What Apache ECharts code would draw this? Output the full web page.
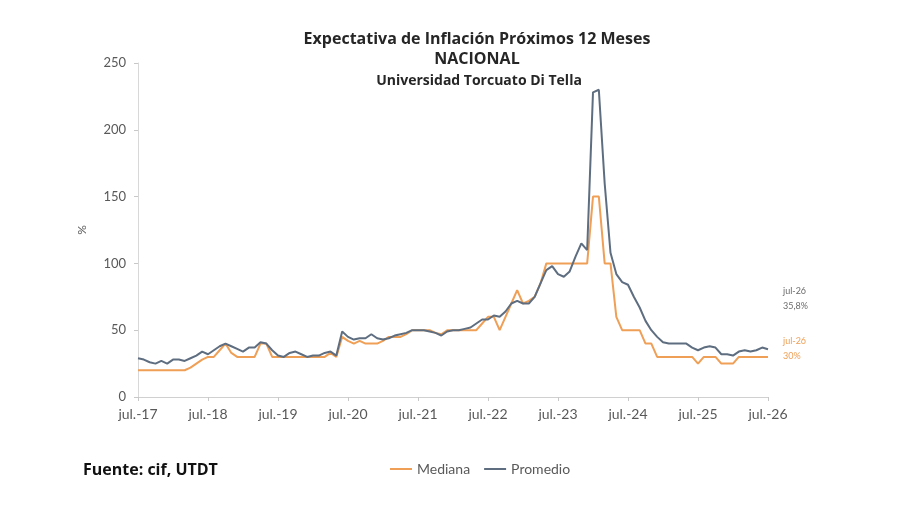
<!DOCTYPE html>
<html>
<head>
<meta charset="utf-8">
<script src="https://cdn.jsdelivr.net/npm/echarts@6/dist/echarts.min.js"></script>
<style>
  html, body { margin: 0; padding: 0; background: #fff; }
  #main { width: 900px; height: 505px; }
</style>
</head>
<body>
<div id="main"></div>
<script>
// monthly, jul-17 .. jul-26
var monthNames = ['ene.', 'feb.', 'mar.', 'abr.', 'may.', 'jun.', 'jul.', 'ago.', 'sep.', 'oct.', 'nov.', 'dic.'];
var months = [];
for (var k = 0; k < 109; k++) {
    var m = (6 + k) % 12;
    var yy = 17 + Math.floor((6 + k) / 12);
    months.push(monthNames[m] + '-' + yy);
}

var mediana = [
    20, 20, 20, 20, 20, 20, 20, 20, 20, 22, 25, 28,   // jul17-jun18
    30, 30, 35, 40, 33, 30, 30, 30, 30, 40, 40, 30,   // jul18-jun19
    30, 30, 30, 30, 30, 30, 30, 30, 30, 33, 30, 45,   // jul19-jun20
    42, 40, 42, 40, 40, 40, 42, 45, 45, 45, 47, 50,   // jul20-jun21
    50, 50, 50, 48, 47, 50, 50, 50, 50, 50, 50, 55,   // jul21-jun22
    60, 60, 50, 60, 70, 80, 70, 72, 75, 85, 100, 100, // jul22-jun23
    100, 100, 100, 100, 100, 100, 150, 150, 100, 100, 60, 50, // jul23-jun24
    50, 50, 50, 40, 40, 30, 30, 30, 30, 30, 30, 30,   // jul24-jun25
    25, 30, 30, 30, 25, 25, 25, 30, 30, 30, 30, 30,   // jul25-jun26
    30
];

var promedio = [
    29, 28, 26, 25, 27, 25, 28, 28, 27, 29, 31, 34,
    32, 35, 38, 40, 38, 36, 34, 37, 37, 41, 40, 35,
    31, 30, 33, 34, 32, 30, 31, 31, 33, 34, 31, 49,
    45, 43, 44, 44, 47, 44, 43, 44, 46, 47, 48, 50,
    50, 50, 49, 48, 46, 49, 50, 50, 51, 52, 55, 58,
    58, 61, 60, 64, 70, 72, 70, 70, 75, 85, 95, 98,
    92, 90, 94, 105, 115, 110, 228, 230, 160, 108, 92, 86,
    84, 75, 67, 57, 50, 45, 41, 40, 40, 40, 40, 37,
    35, 37, 38, 37, 32, 32, 31, 34, 35, 34, 35, 37,
    35.8
];

var yTicks = [0, 50, 100, 150, 200, 250];

var chart = echarts.init(document.getElementById('main'));
var font = 'Lato, "Open Sans", sans-serif';
var titleFont = '"Open Sans", sans-serif';
var option = {
    backgroundColor: '#ffffff',
    animation: false,
    title: [
        { text: 'Expectativa de Inflación Próximos 12 Meses', left: 472, top: 26, textAlign: 'center',
          textStyle: { fontFamily: titleFont, fontSize: 16, fontWeight: 'bold', color: '#262626' } },
        { text: 'NACIONAL', left: 472, top: 46, textAlign: 'center',
          textStyle: { fontFamily: titleFont, fontSize: 16, fontWeight: 'bold', color: '#262626' } },
        { text: 'Universidad Torcuato Di Tella', left: 474, top: 69, textAlign: 'center',
          textStyle: { fontFamily: titleFont, fontSize: 14, fontWeight: 'bold', color: '#262626' } },
        { text: 'Fuente: cif, UTDT', left: 78, top: 457,
          textStyle: { fontFamily: titleFont, fontSize: 16, fontWeight: 'bold', color: '#111' } }
    ],
    legend: {
        left: 385, top: 457,
        icon: 'rect', itemWidth: 22, itemHeight: 2, itemGap: 14,
        textStyle: { fontFamily: font, fontSize: 14, color: '#595959' },
        data: ['Mediana', 'Promedio']
    },
    grid: { left: 138, right: 132, top: 63, bottom: 108 },
    xAxis: {
        type: 'category',
        data: months,
        boundaryGap: false,
        axisLine: { lineStyle: { color: '#d0d0d0' } },
        axisTick: { interval: 11, length: 4, lineStyle: { color: '#c8c8c8' } },
        axisLabel: { interval: 11, fontFamily: font, fontSize: 14, color: '#595959', margin: 10 }
    },
    yAxis: {
        type: 'value',
        min: yTicks[0], max: yTicks[yTicks.length - 1], interval: 50,
        name: '%', nameLocation: 'middle', nameGap: 50, nameRotate: 90,
        nameTextStyle: { fontFamily: font, fontSize: 12, color: '#595959' },
        axisLine: { show: true, lineStyle: { color: '#d8d8d8' } },
        axisTick: { show: true, length: 4, lineStyle: { color: '#c8c8c8' } },
        splitLine: { show: false },
        axisLabel: { fontFamily: font, fontSize: 13, color: '#595959', margin: 12 }
    },
    series: [
        {
            name: 'Mediana', type: 'line', data: mediana,
            symbol: 'none', color: '#EF9F56',
            lineStyle: { width: 2, color: '#EF9F56' }
        },
        {
            name: 'Promedio', type: 'line', data: promedio,
            symbol: 'none', color: '#5E6E80',
            lineStyle: { width: 2, color: '#5E6E80' }
        }
    ],
    graphic: [
        { type: 'text', left: 783, top: 284, style: { text: 'jul-26\n35,8%', fill: '#6b6b6b', font: '9px ' + font, lineHeight: 15 } },
        { type: 'text', left: 783, top: 334, style: { text: 'jul-26\n30%', fill: '#EF9F56', font: '9px ' + font, lineHeight: 15 } }
    ]
};
chart.setOption(option);
</script>
</body>
</html>
